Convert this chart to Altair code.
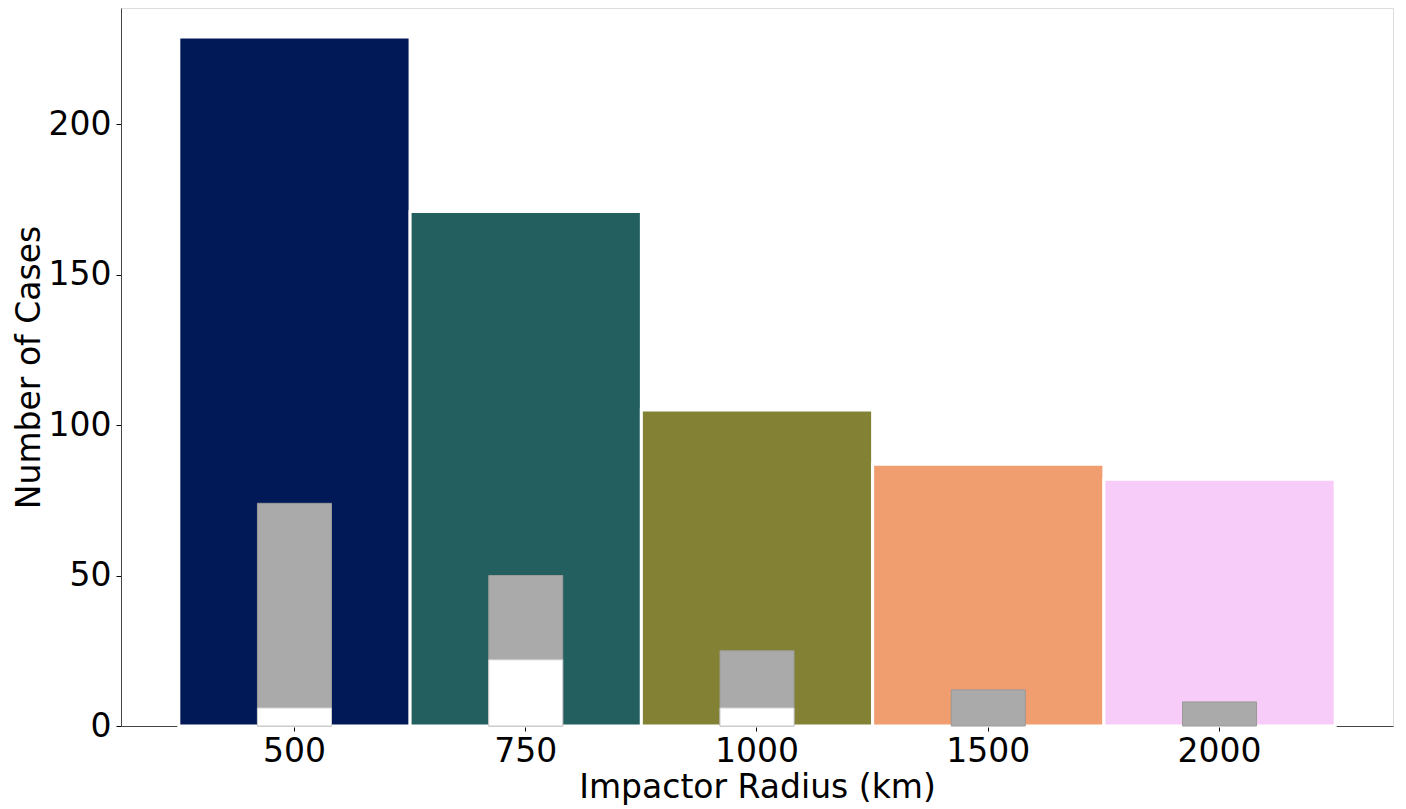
import altair as alt
import pandas as pd

radius = ["500", "750", "1000", "1500", "2000"]
total_cases = [229, 171, 105, 87, 82]
gray_cases = [74, 50, 25, 12, 8]
white_cases = [6, 22, 6, 0, 0]
bar_colors = ["#011a57", "#235f5f", "#838234", "#f09e6f", "#f8ccf8"]

df = pd.DataFrame({
    "radius": radius,
    "total": total_cases,
    "gray": gray_cases,
    "white": white_cases,
})

FONT = "DejaVu Sans"
FS = 33

x_enc = alt.X(
    "radius:N",
    sort=radius,
    scale=alt.Scale(paddingInner=0, paddingOuter=0.25),
    axis=alt.Axis(
        title="Impactor Radius (km)",
        labelAngle=0,
        labelFontSize=FS,
        titleFontSize=FS,
        labelFont=FONT,
        titleFont=FONT,
        labelColor="black",
        titleColor="black",
        titleFontWeight="normal",
        tickColor="black",
        tickSize=5,
        labelPadding=4,
        titlePadding=3,
        domainColor="#444444",
        grid=False,
    ),
)

y_scale = alt.Scale(domain=[0, 238.6], nice=False, zero=True)
y_axis = alt.Axis(
    title="Number of Cases",
    values=[0, 50, 100, 150, 200],
    labelFontSize=FS,
    titleFontSize=FS,
    labelFont=FONT,
    titleFont=FONT,
    labelColor="black",
    titleColor="black",
    titleFontWeight="normal",
    tickColor="black",
    tickSize=5,
    labelPadding=5,
    titlePadding=2,
    domainColor="#444444",
    grid=False,
)

big = alt.Chart(df).mark_bar(stroke="white", strokeWidth=3).encode(
    x=x_enc,
    y=alt.Y("total:Q", scale=y_scale, axis=y_axis),
    color=alt.Color("radius:N", sort=radius,
                    scale=alt.Scale(domain=radius, range=bar_colors),
                    legend=None),
)

gray = alt.Chart(df).mark_bar(
    width=alt.RelativeBandSize(0.32), color="#aaaaaa", stroke="#9a9a9a", strokeWidth=1
).encode(
    x=alt.X("radius:N", sort=radius),
    y=alt.Y("gray:Q"),
)

white = alt.Chart(df).transform_filter("datum.white > 0").mark_bar(
    width=alt.RelativeBandSize(0.32), color="white", stroke="#cccccc", strokeWidth=1
).encode(
    x=alt.X("radius:N", sort=radius),
    y=alt.Y("white:Q"),
)

chart = alt.layer(big, gray, white).properties(
    width=1272,
    height=718,
    padding={"left": 113, "top": 0, "right": 5, "bottom": 80},
    autosize=alt.AutoSizeParams(type="none"),
).configure_view(
    stroke="#444444", strokeWidth=1
).configure(background="white")

chart.save("out.html", embed_options={"renderer": "svg", "actions": False})
